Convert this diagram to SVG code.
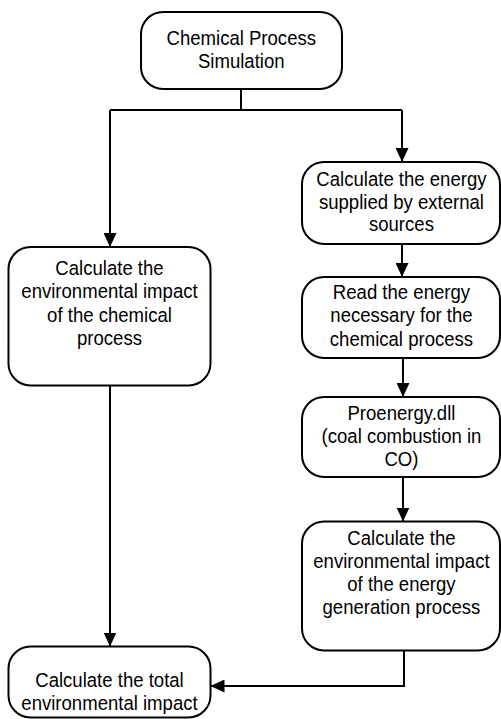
<svg xmlns="http://www.w3.org/2000/svg" width="501" height="719" viewBox="0 0 501 719">
  <style>
    .box { fill: #ffffff; stroke: #000000; stroke-width: 2; }
    .wire { fill: none; stroke: #000000; stroke-width: 2; }
    .lbl { font-family: "Liberation Sans", Arial, sans-serif; font-size: 20.5px; fill: #000000; text-anchor: middle; }
  </style>
  <defs>
    <marker id="arrow" markerUnits="userSpaceOnUse" markerWidth="14" markerHeight="13" refX="14" refY="6.5" orient="auto">
      <path d="M0,0 L14,6.5 L0,13 z" fill="#000000"/>
    </marker>
  </defs>
  <rect width="501" height="719" fill="#ffffff"/>

  <!-- connectors -->
  <g id="connectors">
    <path class="wire" d="M241 89 V110 M110 110 H402"/>
    <path class="wire" d="M110 110 V247" marker-end="url(#arrow)"/>
    <path class="wire" d="M402 110 V162" marker-end="url(#arrow)"/>
    <path class="wire" d="M402 244 V277" marker-end="url(#arrow)"/>
    <path class="wire" d="M403 358 V397" marker-end="url(#arrow)"/>
    <path class="wire" d="M403 477 V521.5" marker-end="url(#arrow)"/>
    <path class="wire" d="M110 385.5 V646.5" marker-end="url(#arrow)"/>
    <path class="wire" d="M404 650.5 V686 H210.5" marker-end="url(#arrow)"/>
  </g>

  <!-- nodes: text is drawn in a horizontally condensed frame (scale 0.905) -->
  <g id="sim">
    <rect class="box" x="141" y="12" width="201" height="77" rx="22"/>
    <g transform="scale(0.905,1)">
      <text class="lbl" x="266.6" y="45.5">Chemical Process</text>
      <text class="lbl" x="266.6" y="68.5">Simulation</text>
    </g>
  </g>

  <g id="energy-supplied">
    <rect class="box" x="302" y="162" width="198" height="82" rx="22"/>
    <g transform="scale(0.905,1)">
      <text class="lbl" x="443.6" y="186.5">Calculate the energy</text>
      <text class="lbl" x="443.6" y="209">supplied by external</text>
      <text class="lbl" x="443.6" y="231.5">sources</text>
    </g>
  </g>

  <g id="energy-read">
    <rect class="box" x="302" y="277" width="198" height="81" rx="22"/>
    <g transform="scale(0.905,1)">
      <text class="lbl" x="443.6" y="299">Read the energy</text>
      <text class="lbl" x="443.6" y="322.5">necessary for the</text>
      <text class="lbl" x="443.6" y="346">chemical process</text>
    </g>
  </g>

  <g id="proenergy">
    <rect class="box" x="302" y="397" width="198" height="80" rx="22"/>
    <g transform="scale(0.905,1)">
      <text class="lbl" x="443.6" y="420">Proenergy.dll</text>
      <text class="lbl" x="443.6" y="443">(coal combustion in</text>
      <text class="lbl" x="443.6" y="466.5">CO)</text>
    </g>
  </g>

  <g id="energy-impact">
    <rect class="box" x="302" y="521.5" width="198" height="129" rx="22"/>
    <g transform="scale(0.905,1)">
      <text class="lbl" x="443.6" y="545">Calculate the</text>
      <text class="lbl" x="443.6" y="568.5">environmental impact</text>
      <text class="lbl" x="443.6" y="591.5">of the energy</text>
      <text class="lbl" x="443.6" y="614">generation process</text>
    </g>
  </g>

  <g id="chemical-impact">
    <rect class="box" x="8.5" y="247" width="202" height="138.5" rx="22"/>
    <g transform="scale(0.905,1)">
      <text class="lbl" x="121" y="275">Calculate the</text>
      <text class="lbl" x="121" y="298.5">environmental impact</text>
      <text class="lbl" x="121" y="322">of the chemical</text>
      <text class="lbl" x="121" y="345.5">process</text>
    </g>
  </g>

  <g id="total-impact">
    <rect class="box" x="8.5" y="646.5" width="202" height="71" rx="22"/>
    <g transform="scale(0.905,1)">
      <text class="lbl" x="121" y="687">Calculate the total</text>
      <text class="lbl" x="121" y="710">environmental impact</text>
    </g>
  </g>
</svg>
